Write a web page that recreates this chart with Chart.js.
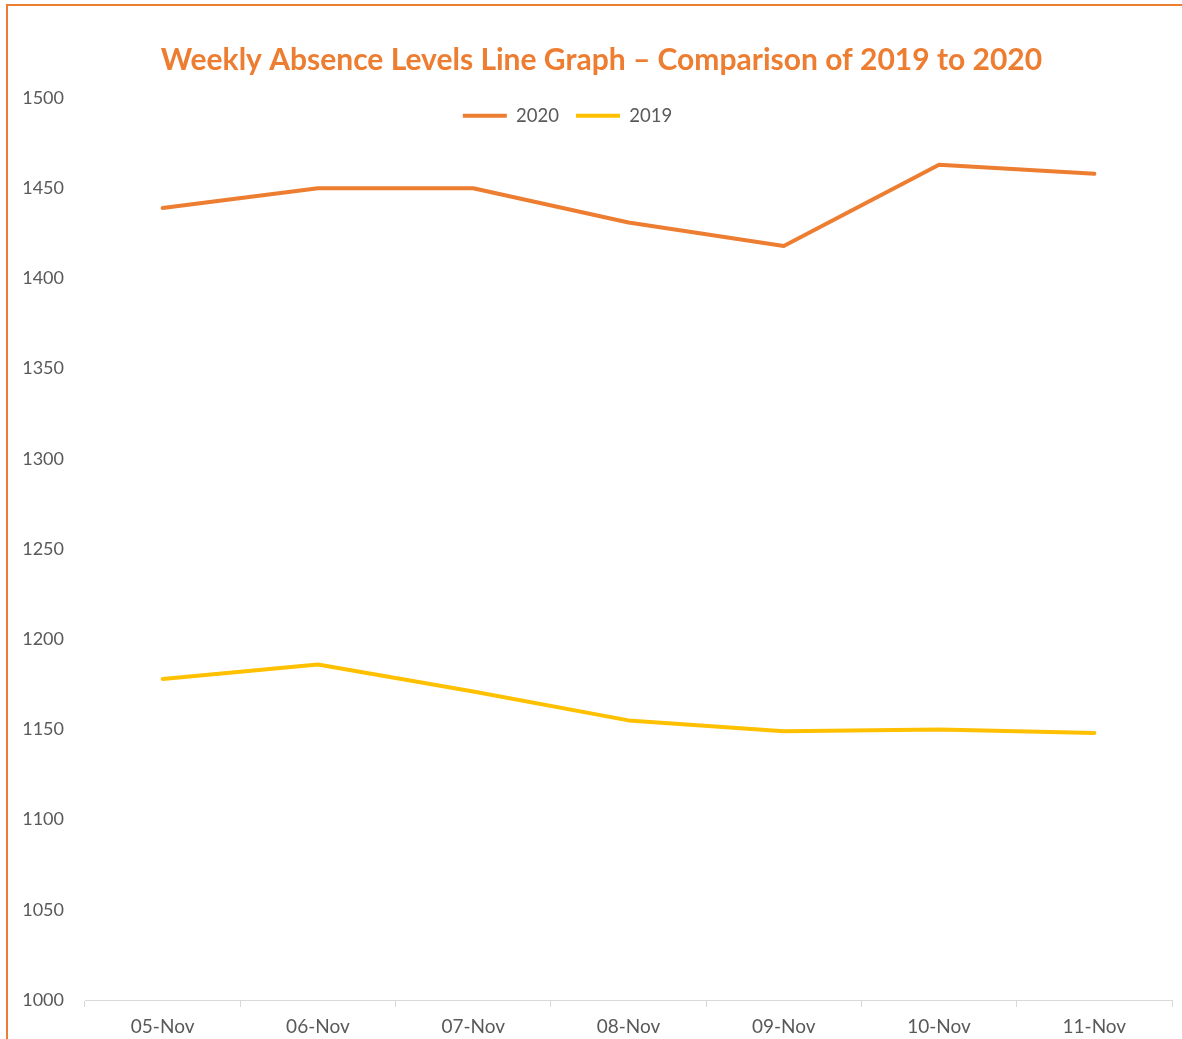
<!DOCTYPE html>
<html>
<head>
<meta charset="utf-8">
<script src="https://cdn.jsdelivr.net/npm/chart.js@4.4.0/dist/chart.umd.min.js"></script>
<style>
html,body{margin:0;padding:0;background:#fff;overflow:hidden;width:1182px;height:1039px;}
#frame{position:absolute;left:6px;top:4px;width:1300px;height:1100px;border-top:2px solid #ED7D31;border-left:2px solid #ED7D31;}
#wrap{position:absolute;left:0;top:0;width:1182px;height:1039px;}
</style>
</head>
<body>
<div id="frame"></div>
<div id="wrap"><canvas id="c"></canvas></div>
<script>
const categories = ['05-Nov','06-Nov','07-Nov','08-Nov','09-Nov','10-Nov','11-Nov'];
const values2020 = [1439, 1450, 1450, 1431, 1418, 1463, 1458];
const values2019 = [1178, 1186, 1171, 1155, 1149, 1150, 1148];
const seriesNames = ['2020', '2019'];
const yMin = 1000;
const yMax = 1500;
const yStep = 50;
const titleText = 'Weekly Absence Levels Line Graph \u2013 Comparison of 2019 to 2020';

const ORANGE = '#ED7D31';
const YELLOW = '#FFC000';
const TEXT = '#595959';
const AXIS = '#D9D9D9';
const FONT = 'Lato, "Open Sans", sans-serif';

// Shift title and legend boxes (Excel places the legend over the plot area)
const boxOffsets = {
  id: 'boxOffsets',
  afterLayout(chart) {
    const move = (box, dx, dy) => {
      if (!box) return;
      box.left += dx; box.right += dx; box.top += dy; box.bottom += dy;
    };
    move(chart.titleBlock, 9.5, 22.5);
    move(chart.legend, -24.5, 37);
  }
};

new Chart(document.getElementById('c'), {
  type: 'line',
  data: {
    labels: categories,
    datasets: [
      { label: seriesNames[0], data: values2020, borderColor: ORANGE, backgroundColor: ORANGE,
        borderWidth: 4, pointRadius: 0, pointHoverRadius: 0, tension: 0,
        borderCapStyle: 'round', borderJoinStyle: 'round', pointStyle: 'line' },
      { label: seriesNames[1], data: values2019, borderColor: YELLOW, backgroundColor: YELLOW,
        borderWidth: 4, pointRadius: 0, pointHoverRadius: 0, tension: 0,
        borderCapStyle: 'round', borderJoinStyle: 'round', pointStyle: 'line' }
    ]
  },
  options: {
    responsive: true,
    maintainAspectRatio: false,
    animation: false,
    devicePixelRatio: 1,
    layout: { padding: { left: 12, right: 10, top: 22.5, bottom: 0 } },
    plugins: {
      title: {
        display: true,
        text: titleText,
        color: ORANGE,
        font: { family: FONT, size: 30, weight: 'bold', lineHeight: 1.0 },
        padding: { top: 0, bottom: 0 }
      },
      legend: {
        display: true,
        position: 'top',
        align: 'center',
        labels: {
          color: TEXT,
          font: { family: FONT, size: 18.5 },
          usePointStyle: true,
          pointStyleWidth: 44,
          padding: 17
        }
      },
      tooltip: { enabled: false }
    },
    scales: {
      x: {
        offset: true,
        grid: { display: true, drawOnChartArea: false, drawTicks: true, tickLength: 7, color: AXIS, offset: true, lineWidth: 1 },
        border: { display: true, color: AXIS, width: 1 },
        ticks: { color: TEXT, font: { family: FONT, size: 19 }, padding: 8, maxRotation: 0, autoSkip: false },
        afterFit(scale) { scale.height = 39; }
      },
      y: {
        min: yMin,
        max: yMax,
        grid: { display: false, drawTicks: false },
        border: { display: false },
        ticks: { stepSize: yStep, color: TEXT, font: { family: FONT, size: 18 }, padding: 21,
                 callback: (v) => String(v) },
        afterFit(scale) { scale.width = 73; }
      }
    }
  },
  plugins: [boxOffsets]
});
</script>
</body>
</html>
